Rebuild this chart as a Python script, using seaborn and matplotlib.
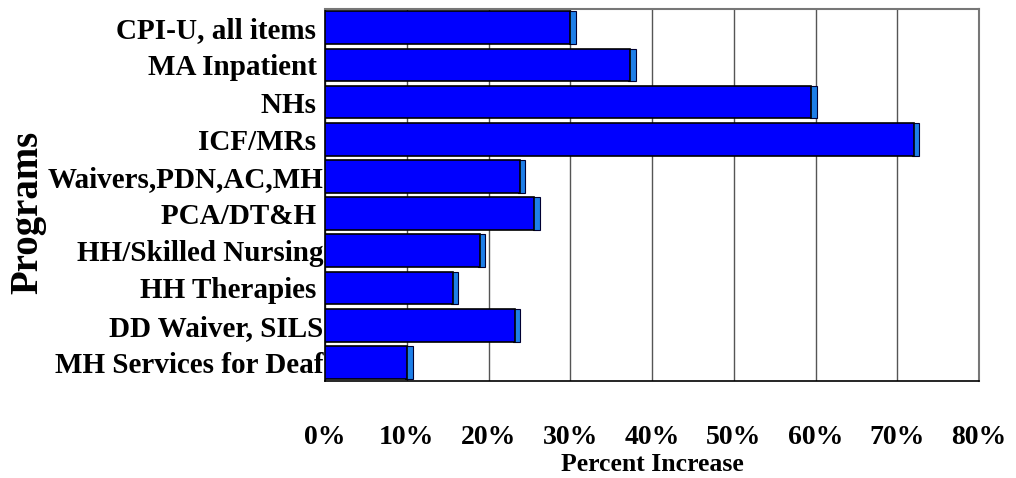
import matplotlib
matplotlib.use("Agg")
import matplotlib.pyplot as plt
import seaborn as sns
import pandas as pd

programs = ["CPI-U, all items ", "MA Inpatient ", "NHs ", "ICF/MRs ", "Waivers,PDN,AC,MH",
            "PCA/DT&H ", "HH/Skilled Nursing", "HH Therapies ", "DD Waiver, SILS",
            "MH Services for Deaf"]
pct_increase = [30.0, 37.3, 59.5, 72.0, 23.8, 25.6, 18.9, 15.6, 23.2, 10.0]
x_ticks = [0, 10, 20, 30, 40, 50, 60, 70, 80]

df = pd.DataFrame({"Program": programs, "Increase": pct_increase})

sns.set_style("white")
plt.rcParams["font.family"] = ["Liberation Serif", "DejaVu Serif"]
plt.rcParams["font.weight"] = "bold"
plt.rcParams["text.color"] = "black"
plt.rcParams["xtick.color"] = "black"
plt.rcParams["ytick.color"] = "black"
plt.rcParams["axes.labelcolor"] = "black"

fig = plt.figure(figsize=(10.16, 4.78), dpi=100)
ax = fig.add_axes([0.32, 0.203, 0.6436, 0.778])

# light side strip to mimic the 3D bar ends
ax.barh(range(len(programs)), [0.9] * len(programs), left=df["Increase"] - 0.2,
        height=0.88, color="#1E7FE8", edgecolor="#000033", linewidth=0.8, zorder=2)
sns.barplot(data=df, y="Program", x="Increase", orient="h", color="#0000FF",
            saturation=1, width=0.88, edgecolor="#000000", linewidth=1.2, ax=ax, zorder=3)

ax.set_xlim(0, 80)
ax.set_ylim(len(programs) - 0.5, -0.5)
ax.set_xticks(x_ticks)
ax.set_xticklabels([f"{t}%" for t in x_ticks], fontsize=20, fontweight="bold")
ax.tick_params(axis="x", length=0, pad=32)
ax.tick_params(axis="y", length=0, pad=1, labelsize=21)
for lab in ax.get_yticklabels():
    lab.set_fontweight("bold")
ax.grid(axis="x", color="#555555", linewidth=1, zorder=0)
ax.set_axisbelow(True)

for side in ["top", "right"]:
    ax.spines[side].set_color("#777777")
    ax.spines[side].set_linewidth(1.5)
for side in ["left", "bottom"]:
    ax.spines[side].set_color("#000000")
    ax.spines[side].set_linewidth(1.2)

ax.set_xlabel("Percent Increase", fontsize=18.5, fontweight="bold", labelpad=2)
ax.set_ylabel("")
fig.text(0.027, 0.556, "Programs", rotation=90, ha="center", va="center",
         fontsize=28, fontweight="bold")

fig.savefig("out.png", dpi=100)
